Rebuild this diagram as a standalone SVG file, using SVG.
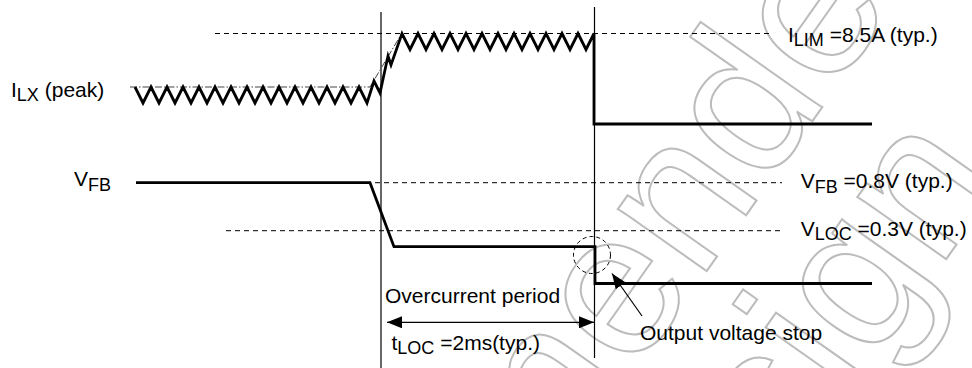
<svg xmlns="http://www.w3.org/2000/svg" width="972" height="368" viewBox="0 0 972 368">
<style>
text{font-family:"Liberation Sans",Arial,sans-serif;font-size:21px;fill:#000}
.sub{font-size:18px}
.wm{font-family:"Liberation Sans",Arial,sans-serif;font-size:205px;fill:none;stroke:#bcbcbc;stroke-width:2}
.sig{fill:none;stroke:#000;stroke-width:2.8;stroke-linejoin:miter}
.dash{fill:none;stroke:#000;stroke-width:1;stroke-dasharray:5 4}
.chain{fill:none;stroke:#444;stroke-width:1;stroke-dasharray:7 2 1.5 2}
.thin{fill:none;stroke:#000;stroke-width:1.2}
</style>
<defs>
<marker id="ah" viewBox="0 0 10 10" refX="10" refY="5" markerWidth="15" markerHeight="12" markerUnits="userSpaceOnUse" orient="auto-start-reverse" preserveAspectRatio="none">
<path d="M0,0 L10,5 L0,10 z" fill="#000"/>
</marker>
</defs>
<rect width="972" height="368" fill="#fff"/>
<g id="watermark">
<text class="wm" transform="translate(160,1046) rotate(-54.8)">Recommended</text>
<text class="wm" transform="translate(636,699) rotate(-54.8)">Design</text>
</g>
<g id="connectors">
<line class="thin" x1="381" y1="12" x2="381" y2="368"/>
<line class="thin" x1="594.5" y1="7" x2="594.5" y2="358"/>
<line class="dash" x1="215" y1="33.5" x2="772" y2="33.5"/>
<line class="dash" x1="375" y1="182.7" x2="782" y2="182.7"/>
<line class="dash" x1="226" y1="230.7" x2="782" y2="230.7"/>
<path class="chain" d="M130,87 L370,87 L402,33"/>
<circle class="dash" cx="592" cy="255" r="18.5" style="stroke-dasharray:4 3"/>
<line class="thin" x1="642" y1="316" x2="612" y2="273.5" marker-end="url(#ah)"/>
<line class="thin" x1="387" y1="322.3" x2="594" y2="322.3" marker-start="url(#ah)" marker-end="url(#ah)"/>
</g>
<g id="ilx-signal">
<path class="sig" d="M135,87 L143,103 L151,87 L159,103 L167,87 L175,103 L183,87 L191,103 L199,87 L207,103 L215,87 L223,103 L231,87 L239,103 L247,87 L255,103 L263,87 L271,103 L279,87 L287,103 L295,87 L303,103 L311,87 L319,103 L327,87 L335,103 L343,87 L351,103 L359,87 L367,103 L374,81 L380,93 L388,56 L391,65 L402,33.5 L410,49.5 L418,33.5 L426,49.5 L434,33.5 L442,49.5 L450,33.5 L458,49.5 L466,33.5 L474,49.5 L482,33.5 L490,49.5 L498,33.5 L506,49.5 L514,33.5 L522,49.5 L530,33.5 L538,49.5 L546,33.5 L554,49.5 L562,33.5 L570,49.5 L578,33.5 L586,49.5 L594,33.5 L594,124 L872,124"/>
</g>
<g id="vfb-signal">
<path class="sig" d="M136,182.7 L370,182.7 L394,246.7 L595,246.7 L595,283.5 L872,283.5"/>
</g>
<g id="labels">
<text x="11" y="97">I<tspan class="sub" dy="3.5">LX</tspan><tspan dy="-3.5"> (peak)</tspan></text>
<text x="74" y="186">V<tspan class="sub" dy="4.5">FB</tspan></text>
<text x="788" y="42">I<tspan class="sub" dy="4">LIM</tspan><tspan dy="-4"> =8.5A (typ.)</tspan></text>
<text x="800.7" y="188.3">V<tspan class="sub" dy="4.5">FB</tspan><tspan dy="-4.5"> =0.8V (typ.)</tspan></text>
<text x="800.7" y="235.5">V<tspan class="sub" dy="4.5">LOC</tspan><tspan dy="-4.5"> =0.3V (typ.)</tspan></text>
<text x="385" y="303">Overcurrent period</text>
<text x="391.5" y="349.5">t<tspan class="sub" dy="4.5">LOC</tspan><tspan dy="-4.5"> =2ms(typ.)</tspan></text>
<text x="640" y="340">Output voltage stop</text>
</g>
</svg>
